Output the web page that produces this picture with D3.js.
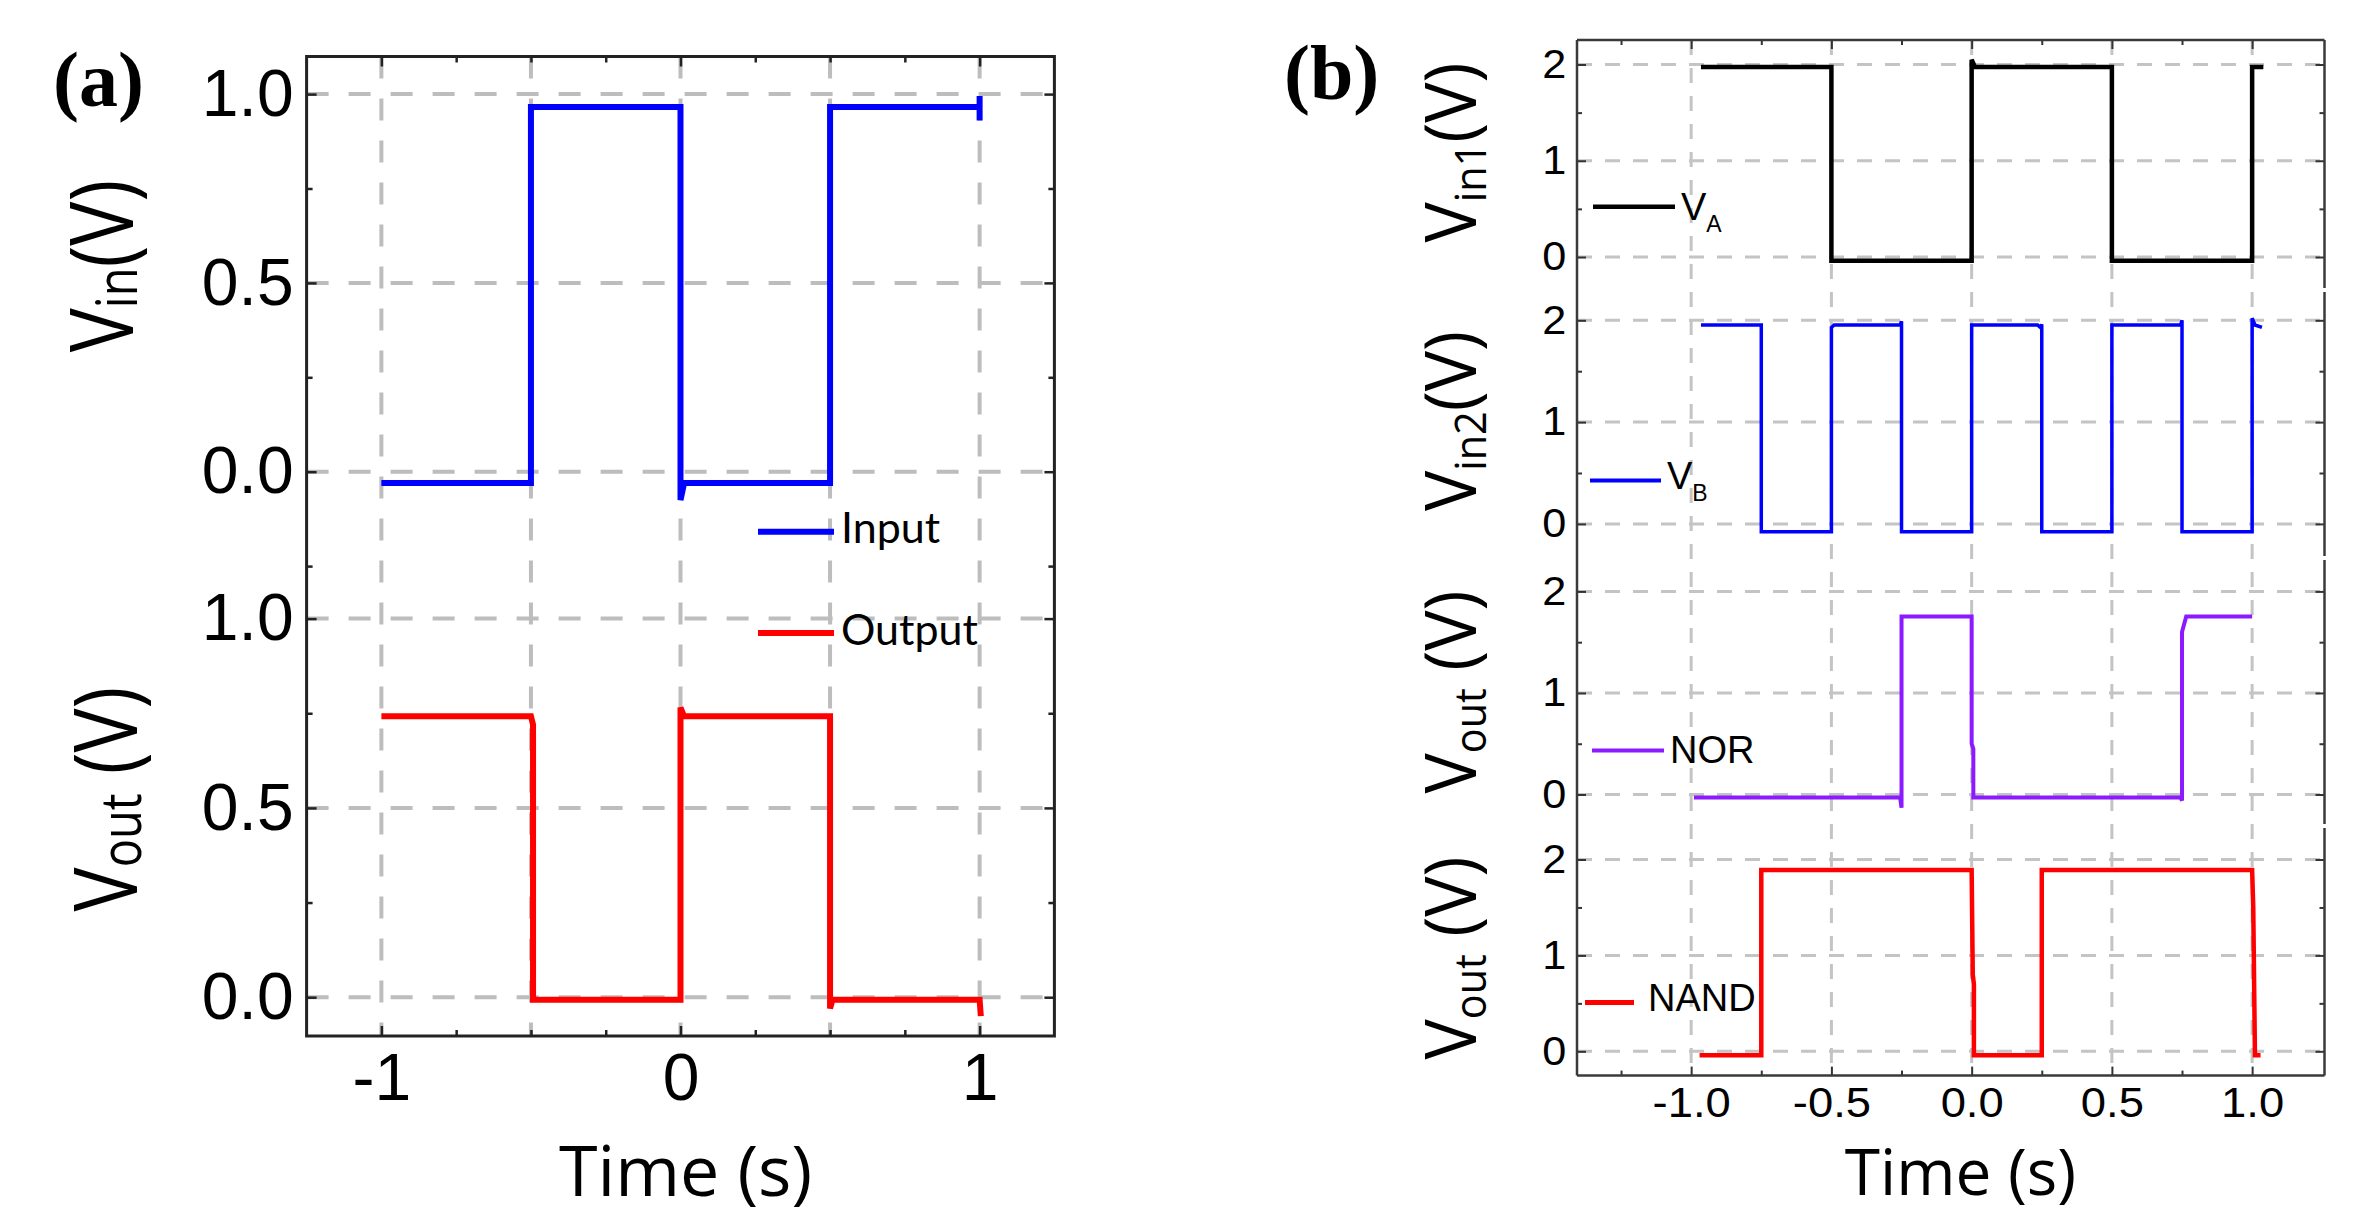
<!DOCTYPE html>
<html>
<head>
<meta charset="utf-8">
<script src="https://cdn.jsdelivr.net/npm/d3@7"></script>
<style>
  html, body { margin: 0; padding: 0; background: #fff; }
  svg { display: block; }
</style>
</head>
<body>
<svg id="chart" width="2362" height="1217"></svg>
<script>
// ---------- panel (a): inverter, input vs output ----------
const inputT  = [-1.0, -0.5, -0.5, 0.0, 0.0, 0.012, 0.5, 0.5, 1.0, 1.0, 1.0];
const inputV  = [-0.03, -0.03, 0.966, 0.966, -0.075, -0.03, -0.03, 0.966, 0.966, 0.995, 0.93];
const outputT = [-1.0, -0.5, -0.493, -0.493, 0.0, 0.0, 0.012, 0.5, 0.5, 0.508, 1.0, 1.004];
const outputV = [0.742, 0.742, 0.72, -0.007, -0.007, 0.765, 0.742, 0.742, -0.03, -0.007, -0.007, -0.05];

const aTimeMajor = [-1, 0, 1];
const aTimeMinor = [-0.75, -0.5, -0.25, 0.25, 0.5, 0.75];
const aTimeGrid  = [-1, -0.5, 0, 0.5, 1];
const aVoltMajor = [0, 0.5, 1];
const aVoltMinorTop = [-0.25, 0.25, 0.75];
const aVoltMinorBottom = [0.25, 0.75];

// ---------- panel (b): two inputs, NOR and NAND outputs ----------
const vaT = [-0.965, -0.5, -0.5, 0.0, 0.0, 0.012, 0.5, 0.5, 1.0, 1.0, 1.04];
const vaV = [1.973, 1.973, -0.04, -0.04, 2.05, 1.973, 1.973, -0.04, -0.04, 1.973, 1.973];
const vbT = [-0.965, -0.75, -0.75, -0.5, -0.5, -0.49, -0.255, -0.25, -0.25, 0.0, 0.0, 0.235, 0.245, 0.25, 0.25, 0.5, 0.5, 0.745, 0.75, 0.75, 1.0, 1.0, 1.01, 1.035];
const vbV = [1.954, 1.954, -0.078, -0.078, 1.93, 1.954, 1.954, 1.99, -0.078, -0.078, 1.954, 1.954, 1.93, 1.96, -0.078, -0.078, 1.954, 1.954, 2.0, -0.078, -0.078, 2.02, 1.954, 1.93];
const norT = [-0.99, -0.255, -0.25, -0.25, 0.0, 0.0, 0.006, 0.006, 0.745, 0.75, 0.75, 0.765, 1.0];
const norV = [-0.03, -0.03, -0.13, 1.753, 1.753, 0.5, 0.45, -0.03, -0.03, -0.06, 1.6, 1.753, 1.753];
const nandT = [-0.97, -0.75, -0.75, 0.0, 0.004, 0.008, 0.008, 0.25, 0.25, 1.0, 1.004, 1.01, 1.03];
const nandV = [-0.04, -0.04, 1.89, 1.89, 0.8, 0.7, -0.04, -0.04, 1.89, 1.89, 1.5, -0.04, -0.04];

const bTimeMajor = [-1, -0.5, 0, 0.5, 1];
const bTimeMinor = [-1.25, -0.75, -0.25, 0.25, 0.75];
const bVoltMajor = [0, 1, 2];
const bVoltMinor = [0.5, 1.5];

const svg = d3.select("#chart");
const NUM_FONT = "'Liberation Sans', Arial, sans-serif";
const TITLE_FONT = "'Open Sans', 'Noto Sans', sans-serif";

// tick formats with a plain hyphen for negatives
const hyphen = f => d => f(d).replace("\u2212", "-");
const fmtInt = hyphen(d3.format("d"));
const fmt1 = hyphen(d3.format(".1f"));

// ---------- helpers ----------
function drawSeries(g, xs, ys, T, V, color, width) {
  const line = d3.line().x(d => xs(d[0])).y(d => ys(d[1]));
  g.append("path")
    .attr("d", line(d3.zip(T, V)))
    .attr("fill", "none")
    .attr("stroke", color)
    .attr("stroke-width", width)
    .attr("stroke-linejoin", "miter")
    .attr("stroke-linecap", "butt");
}

// inward ticks; minor ticks shortened, labels only on majors
function drawAxis(g, axisFn, scale, pos, major, minor, fmt, o) {
  const isMajor = d => major.some(m => Math.abs(m - d) < 1e-9);
  const ax = axisFn(scale)
    .tickValues(major.concat(minor))
    .tickSizeInner(-o.major)
    .tickSizeOuter(0)
    .tickPadding(o.pad)
    .tickFormat(d => (fmt && isMajor(d)) ? fmt(d) : "");
  const a = g.append("g").attr("transform", pos).call(ax);
  a.select(".domain").remove();
  a.selectAll(".tick line").attr("stroke", o.color).attr("stroke-width", o.width);
  a.selectAll(".tick").filter(d => !isMajor(d)).select("line")
    .each(function () {
      const l = d3.select(this);
      ["x2", "y2"].forEach(k => {
        const v = +l.attr(k);
        if (v) l.attr(k, v * o.minor / o.major);
      });
    });
  a.attr("font-family", NUM_FONT).attr("font-size", o.fontSize);
  a.selectAll(".tick text").attr("fill", "#000");
  if (o.sx) a.selectAll(".tick text").attr("transform", `scale(${o.sx},1)`);
  return a;
}

function yTitle(x, y, main, sub, rest, fs, subfs, subDy, sx) {
  const t = svg.append("text")
    .attr("transform", `translate(${x},${y}) rotate(-90) scale(${sx},1)`)
    .attr("text-anchor", "middle")
    .attr("font-family", TITLE_FONT)
    .attr("font-size", fs)
    .attr("fill", "#000");
  t.append("tspan").text(main);
  t.append("tspan").attr("font-size", subfs).attr("dy", subDy).text(sub);
  t.append("tspan").attr("dy", -subDy).text(rest);
}

function styleGrid(sel, st) { Object.entries(st).forEach(([k, v]) => sel.attr(k, v)); }

// ================= PANEL (a) =================
const A = { left: 306.6, right: 1054.4, top: 56.5, bottom: 1036 };
const xA = d3.scaleLinear().domain([-1.25, 1.25]).range([A.left, A.right]);
const yA1 = d3.scaleLinear().domain([0, 1]).range([471.7, 94.1]);
const yA2 = d3.scaleLinear().domain([0, 1]).range([997.2, 618.6]);

const gA = svg.append("g");
const gridA = { stroke: "#bdbdbd", "stroke-width": 4, "stroke-dasharray": "22 20" };

// vertical grid
aTimeGrid.forEach(t => {
  styleGrid(gA.append("line")
    .attr("x1", xA(t)).attr("x2", xA(t))
    .attr("y1", A.top).attr("y2", A.bottom), gridA);
});
// horizontal grid
[yA1, yA2].forEach(ys => {
  aVoltMajor.forEach(v => {
    styleGrid(gA.append("line")
      .attr("x1", A.left).attr("x2", A.right)
      .attr("y1", ys(v)).attr("y2", ys(v)), gridA);
  });
});

drawSeries(gA, xA, yA1, inputT, inputV, "#0000ff", 6);
drawSeries(gA, xA, yA2, outputT, outputV, "#ff0000", 6);

const optA = { major: 10, minor: 6, pad: 13, color: "#222", width: 2.5, fontSize: 66 };
drawAxis(gA, d3.axisLeft, yA1, `translate(${A.left},0)`, aVoltMajor, aVoltMinorTop, fmt1, optA);
drawAxis(gA, d3.axisLeft, yA2, `translate(${A.left},0)`, aVoltMajor, aVoltMinorBottom, fmt1, optA);
drawAxis(gA, d3.axisRight, yA1, `translate(${A.right},0)`, aVoltMajor, aVoltMinorTop, null, optA);
drawAxis(gA, d3.axisRight, yA2, `translate(${A.right},0)`, aVoltMajor, aVoltMinorBottom, null, optA);
drawAxis(gA, d3.axisBottom, xA, `translate(0,${A.bottom})`, aTimeMajor, aTimeMinor, fmtInt, { ...optA, pad: 17 });
drawAxis(gA, d3.axisTop, xA, `translate(0,${A.top})`, aTimeMajor, aTimeMinor, null, optA);

gA.append("rect")
  .attr("x", A.left).attr("y", A.top)
  .attr("width", A.right - A.left).attr("height", A.bottom - A.top)
  .attr("fill", "none").attr("stroke", "#222").attr("stroke-width", 3);

// legend (a)
const legA = [
  { name: "Input", color: "#0000ff", y: 531.7, base: 543 },
  { name: "Output", color: "#ff0000", y: 633, base: 645 }
];
legA.forEach(d => {
  gA.append("line").attr("x1", 758).attr("x2", 834).attr("y1", d.y).attr("y2", d.y)
    .attr("stroke", d.color).attr("stroke-width", 6);
  gA.append("text").attr("x", 841).attr("y", d.base)
    .attr("font-family", "Lato, 'Open Sans', sans-serif").attr("font-size", 43)
    .attr("fill", "#000").text(d.name);
});

yTitle(133, 266, "V", "in", "(V)", 88, 56, 4, 0.84);
yTitle(137, 799, "V", "out", " (V)", 88, 56, 4, 0.84);

svg.append("text").attr("x", 685.5).attr("y", 1196)
  .attr("text-anchor", "middle").attr("font-family", TITLE_FONT)
  .attr("font-size", 70).attr("fill", "#000").text("Time (s)");

svg.append("text").attr("x", 53).attr("y", 106)
  .attr("font-family", "'Liberation Serif', 'Times New Roman', serif")
  .attr("font-weight", "bold").attr("font-size", 78).attr("fill", "#000").text("(a)");

// ================= PANEL (b) =================
const B = { left: 1577, right: 2324.5, top: 40, bottom: 1075.6 };
const bounds = [40, 290, 558, 826, 1075.6];
const xB = d3.scaleLinear().domain([-1.407, 1.258]).range([B.left, B.right]);
const yRanges = [[257, 64.5], [523.9, 320.3], [794.5, 591.4], [1051.3, 859.5]];
const yB = yRanges.map(r => d3.scaleLinear().domain([0, 2]).range(r));

const gB = svg.append("g");
const gridB = { stroke: "#c4c4c4", "stroke-width": 3, "stroke-dasharray": "15 13" };

bTimeMajor.forEach(t => {
  styleGrid(gB.append("line")
    .attr("x1", xB(t)).attr("x2", xB(t))
    .attr("y1", B.top).attr("y2", B.bottom), gridB);
});
yB.forEach(ys => {
  bVoltMajor.forEach(v => {
    styleGrid(gB.append("line")
      .attr("x1", B.left).attr("x2", B.right)
      .attr("y1", ys(v)).attr("y2", ys(v)), gridB);
  });
});

drawSeries(gB, xB, yB[0], vaT, vaV, "#000000", 4.5);
drawSeries(gB, xB, yB[1], vbT, vbV, "#0000ff", 3.5);
drawSeries(gB, xB, yB[2], norT, norV, "#8c1aff", 4);
drawSeries(gB, xB, yB[3], nandT, nandV, "#ff0000", 4.5);

const optB = { major: 9, minor: 5, pad: 10, color: "#333", width: 2, fontSize: 40, sx: 1.08 };
yB.forEach(ys => {
  drawAxis(gB, d3.axisLeft, ys, `translate(${B.left},0)`, bVoltMajor, bVoltMinor, fmtInt, optB);
  drawAxis(gB, d3.axisRight, ys, `translate(${B.right},0)`, bVoltMajor, bVoltMinor, null, optB);
});
drawAxis(gB, d3.axisBottom, xB, `translate(0,${B.bottom})`, bTimeMajor, bTimeMinor, fmt1,
  { ...optB, fontSize: 42, pad: 12 });
drawAxis(gB, d3.axisTop, xB, `translate(0,${B.top})`, bTimeMajor, bTimeMinor, null, optB);

// frame (b): right edge broken between stacked layers
const frameB = { stroke: "#3a3a3a", "stroke-width": 2.5 };
styleGrid(gB.append("line").attr("x1", B.left).attr("x2", B.left).attr("y1", B.top).attr("y2", B.bottom), frameB);
styleGrid(gB.append("line").attr("x1", B.left).attr("x2", B.right).attr("y1", B.top).attr("y2", B.top), frameB);
styleGrid(gB.append("line").attr("x1", B.left).attr("x2", B.right).attr("y1", B.bottom).attr("y2", B.bottom), frameB);
for (let i = 0; i < 4; i++) {
  styleGrid(gB.append("line").attr("x1", B.right).attr("x2", B.right)
    .attr("y1", bounds[i] + (i ? 2 : 0)).attr("y2", bounds[i + 1] - (i < 3 ? 2 : 0)), frameB);
}

// legends (b)
const legB = [
  { name: "V", sub: "A", color: "#000000", x1: 1593, x2: 1675, y: 206.7, tx: 1681, base: 220, w: 4.5 },
  { name: "V", sub: "B", color: "#0000ff", x1: 1590, x2: 1661, y: 480.4, tx: 1667, base: 489, w: 4 },
  { name: "NOR", sub: "", color: "#8c1aff", x1: 1592, x2: 1664, y: 750.6, tx: 1670, base: 763, w: 4 },
  { name: "NAND", sub: "", color: "#ff0000", x1: 1585, x2: 1634, y: 1002.5, tx: 1648, base: 1011, w: 5 }
];
legB.forEach(d => {
  gB.append("line").attr("x1", d.x1).attr("x2", d.x2).attr("y1", d.y).attr("y2", d.y)
    .attr("stroke", d.color).attr("stroke-width", d.w);
  const t = gB.append("text").attr("x", d.tx).attr("y", d.base)
    .attr("font-family", NUM_FONT).attr("font-size", 38).attr("fill", "#000");
  t.append("tspan").text(d.name);
  if (d.sub) t.append("tspan").attr("font-size", 23).attr("dy", 12).text(d.sub);
});

const ysTitles = [
  { main: "V", sub: "in1", rest: "(V)", y: 152.5 },
  { main: "V", sub: "in2", rest: "(V)", y: 421 },
  { main: "V", sub: "out", rest: " (V)", y: 692 },
  { main: "V", sub: "out", rest: " (V)", y: 958 }
];
ysTitles.forEach(d => yTitle(1476, d.y, d.main, d.sub, d.rest, 72, 44, 10, 0.94));

svg.append("text").attr("x", 1960.5).attr("y", 1195)
  .attr("text-anchor", "middle").attr("font-family", TITLE_FONT)
  .attr("font-size", 64).attr("fill", "#000").text("Time (s)");

svg.append("text").attr("x", 1284).attr("y", 99)
  .attr("font-family", "'Liberation Serif', 'Times New Roman', serif")
  .attr("font-weight", "bold").attr("font-size", 78).attr("fill", "#000").text("(b)");
</script>
</body>
</html>
